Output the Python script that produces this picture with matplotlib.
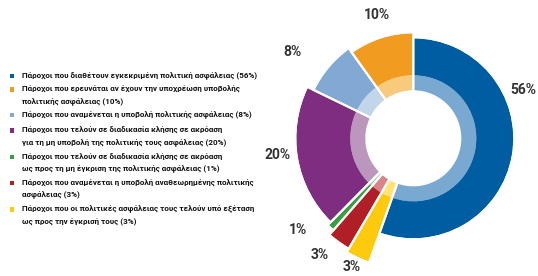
import matplotlib
matplotlib.use('Agg')
import matplotlib.pyplot as plt

# legend order
categories = [
    'Πάροχοι που διαθέτουν εγκεκριμένη πολιτική ασφάλειας (56%)',
    'Πάροχοι που ερευνάται αν έχουν την υποχρέωση υποβολής\nπολιτικής ασφάλειας (10%)',
    'Πάροχοι που αναμένεται η υποβολή πολιτικής ασφάλειας (8%)',
    'Πάροχοι που τελούν σε διαδικασία κλήσης σε ακρόαση\nγια τη μη υποβολή της πολιτικής τους ασφάλειας (20%)',
    'Πάροχοι που τελούν σε διαδικασία κλήσης σε ακρόαση\nως προς τη μη έγκριση της πολιτικής ασφάλειας (1%)',
    'Πάροχοι που αναμένεται η υποβολή αναθεωρημένης πολιτικής\nασφάλειας (3%)',
    'Πάροχοι που οι πολιτικές ασφάλειας τους τελούν υπό εξέταση\nως προς την έγκρισή τους (3%)',
]
shares = [56, 10, 8, 20, 1, 3, 3]
pct_labels = ['56%', '10%', '8%', '20%', '1%', '3%', '3%']

# order of slices clockwise from 12 o'clock
pie_order = [0, 6, 5, 4, 3, 2, 1]

dark = ['#005DA2', '#F19C21', '#82A9D4', '#7E2D80', '#36A041', '#B01F25', '#FDCA0E']
light = ['#79A9D1', '#F8CA7B', '#C2D5EB', '#BC97BD', '#9ED09A', '#DA8388', '#FFE376']
outer_r = [100, 105, 110, 117, 121, 127, 131]

W, H = 538, 276
CX, CY = 413.3, H - 138.3
R_HOLE, R_RING = 47, 63

label_pos = [(523, 90), (377, 15), (292, 52), (278, 155), (298, 230), (320, 255), (352, 267)]
legend_y = [76, 89.5, 115, 130.5, 157, 183, 209.5]

fig = plt.figure(figsize=(W / 100, H / 100), dpi=100)
ax = fig.add_axes([0, 0, 1, 1])

vals = [shares[i] for i in pie_order]

# inner light ring
ax.pie(vals, colors=[light[i] for i in pie_order], radius=R_RING, center=(CX, CY),
       startangle=90, counterclock=False,
       wedgeprops=dict(width=R_RING - R_HOLE, linewidth=0))

# outer dark wedges, each with its own radius
dark_w, _ = ax.pie(vals, colors=[dark[i] for i in pie_order], radius=100, center=(CX, CY),
                   startangle=90, counterclock=False,
                   wedgeprops=dict(width=37, linewidth=0))
for w, i in zip(dark_w, pie_order):
    w.set_radius(outer_r[i])
    w.set_width(outer_r[i] - R_RING)

# white separators
edge_w, _ = ax.pie(vals, colors=['none'] * len(vals), radius=100, center=(CX, CY),
                   startangle=90, counterclock=False,
                   wedgeprops=dict(width=53, linewidth=1.5, edgecolor='white', facecolor='none'))
for w, i in zip(edge_w, pie_order):
    w.set_radius(outer_r[i] + 1)
    w.set_width(outer_r[i] + 1 - R_HOLE)
    w.set_facecolor('none')

for lab, (x, y) in zip(pct_labels, label_pos):
    ax.text(x, H - y, lab, ha='center', va='center', fontsize=10,
            fontweight='bold', color='#333333', family=['Roboto', 'DejaVu Sans'])

# legend
for cat, col, y in zip(categories, dark, legend_y):
    ax.add_patch(plt.Rectangle((10, H - y - 2.2), 4.4, 4.4, facecolor=col, edgecolor='none'))
    for k, line in enumerate(cat.split('\n')):
        ax.text(22, H - y - k * 12.5, line, ha='left', va='center', fontsize=5.75,
                fontweight='bold', color='#111111',
                family=['Roboto', 'DejaVu Sans'])

ax.set_xlim(0, W)
ax.set_ylim(0, H)
ax.set_aspect('equal')
ax.axis('off')

plt.savefig('out.png', dpi=100)
plt.close()
